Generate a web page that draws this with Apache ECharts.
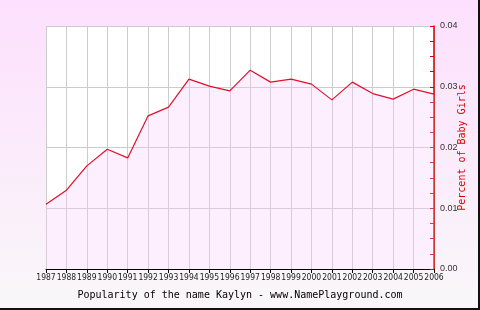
<!DOCTYPE html>
<html><head><meta charset="utf-8">
<script src="https://cdn.jsdelivr.net/npm/echarts@6/dist/echarts.min.js"></script>
<style>html,body{margin:0;padding:0;}#c{width:480px;height:310px;}</style>
</head><body><div id="c"></div>
<script>
var years = ['1987','1988','1989','1990','1991','1992','1993','1994','1995','1996','1997','1998','1999','2000','2001','2002','2003','2004','2005','2006'];
var percent = [0.01066,0.01297,0.01697,0.01972,0.01829,0.02521,0.02664,0.03125,0.0301,0.02932,0.03273,0.03076,0.03125,0.03043,0.02784,0.03076,0.02888,0.02796,0.0296,0.02878];
var yTicks = [0, 0.01, 0.02, 0.03, 0.04];
var titleText = 'Popularity of the name Kaylyn - www.NamePlayground.com';
var yName = 'Percent of Baby Girls';

var chart = echarts.init(document.getElementById('c'), null, {renderer:'canvas'});
chart.setOption({
  animation:false,
  backgroundColor:{type:'linear',x:0,y:0,x2:0,y2:1,colorStops:[{offset:0,color:'#fde0fd'},{offset:1,color:'#f9f7f9'}]},
  title:{text:titleText,left:'center',top:285,textStyle:{fontFamily:'DejaVu Sans Mono',fontSize:10,fontWeight:'normal',color:'#000'}},
  grid:{left:46,right:46,top:26,bottom:41,show:true,backgroundColor:'#ffffff',borderWidth:0},
  xAxis:{type:'category',data:years,boundaryGap:false,
    axisLine:{lineStyle:{color:'#000',width:1}},
    axisTick:{show:true,length:4,lineStyle:{color:'#000'},interval:0},
    axisLabel:{interval:0,margin:4,fontSize:8.5,color:'#222',fontFamily:'Liberation Sans Narrow, DejaVu Sans Condensed, sans-serif',hideOverlap:false},
    splitLine:{show:true,lineStyle:{color:'#cccccc',width:1}}},
  yAxis:{type:'value',position:'right',min:0,max:0.04,interval:0.01,
    name:yName,nameLocation:'middle',nameGap:23,nameRotate:90,nameMoveOverlap:false,
    nameTextStyle:{color:'#dd0000',fontFamily:'DejaVu Sans Mono',fontSize:10},
    axisLine:{show:true,lineStyle:{color:'#cc0000',width:1.5}},
    axisTick:{show:true,inside:true,length:4,lineStyle:{color:'#cc0000'}},
    minorTick:{show:true,splitNumber:4,length:4,lineStyle:{color:'#cc0000'}},
    axisLabel:{margin:6,fontSize:9,color:'#333',fontFamily:'Liberation Sans, sans-serif',
      formatter:function(v){return yTicks.indexOf(Math.round(v*100)/100)>=0 ? v.toFixed(2) : '';}},
    splitLine:{show:true,lineStyle:{color:'#cccccc',width:1}}},
  series:[{type:'line',data:percent,symbol:'none',
    lineStyle:{color:'#e0102a',width:1.2},
    areaStyle:{color:'rgba(250,200,250,0.42)',origin:'start'},z:3}],
  graphic:[
    {type:'line',shape:{x1:0,y1:309,x2:480,y2:309},style:{stroke:'#111',lineWidth:2},z:100},
    {type:'line',shape:{x1:479,y1:0,x2:479,y2:310},style:{stroke:'#111',lineWidth:2},z:100}
  ]
});
</script></body></html>
